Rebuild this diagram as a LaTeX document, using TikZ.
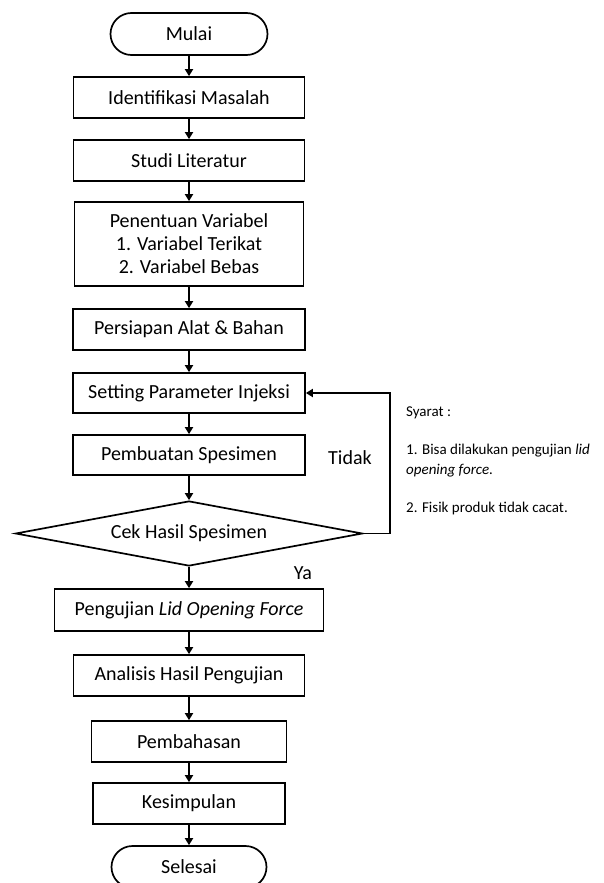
\documentclass[tikz,border=0pt]{standalone}
\usepackage{fontspec}
\setmainfont{Carlito}
\usetikzlibrary{shapes.geometric,arrows.meta}
\begin{document}
\begin{tikzpicture}[x=1pt,y=-1pt,
  box/.style={draw, line width=1.7pt, minimum height=41pt, inner sep=0pt, font=\fontsize{20}{23}\selectfont},
  term/.style={box, minimum width=157pt, minimum height=42pt, rounded corners=21pt},
  dec/.style={draw, diamond, aspect=5.3, line width=1.7pt, minimum width=347pt, minimum height=65pt, inner sep=0pt, font=\fontsize{20}{23}\selectfont},
  arr/.style={line width=1.7pt, -{Triangle[length=7pt,width=8pt]}},
  lbl/.style={font=\fontsize{20}{23}\selectfont, inner sep=0pt},
  note/.style={font=\fontsize{15}{18}\selectfont, anchor=west, inner sep=0pt}]
\useasboundingbox (0,0) rectangle (604,883);
\clip (0,0) rectangle (604,883);
\node[term] (mulai) at (189,34) {Mulai};
\node[box, minimum width=231pt] (ident) at (189,97.5) {Identifikasi Masalah};
\node[box, minimum width=231pt] (studi) at (189,160.5) {Studi Literatur};
\node[box, minimum width=229pt, minimum height=84pt, align=center] (var) at (189,244) {Penentuan Variabel\\1. Variabel Terikat\\2. Variabel Bebas};
\node[box, minimum width=232pt] (alat) at (189,329.5) {Persiapan Alat \& Bahan};
\node[box, minimum width=232pt, minimum height=40pt] (set) at (189,393) {Setting Parameter Injeksi};
\node[box, minimum width=232pt, minimum height=40pt] (buat) at (189,455) {Pembuatan Spesimen};
\node[dec] (cek) at (189,533.5) {Cek Hasil Spesimen};
\node[box, minimum width=269pt, minimum height=42pt] (uji) at (189,610) {Pengujian \textit{Lid Opening Force}};
\node[box, minimum width=231pt] (anal) at (189,675.5) {Analisis Hasil Pengujian};
\node[box, minimum width=195pt] (bahas) at (189,741.5) {Pembahasan};
\node[box, minimum width=192pt] (simp) at (189,803.5) {Kesimpulan};
\node[term, minimum width=155pt] (selesai) at (189,867) {Selesai};
\foreach \a/\b in {mulai/ident, ident/studi, studi/var, var/alat, alat/set, set/buat, buat/cek, cek/uji, uji/anal, anal/bahas, bahas/simp, simp/selesai}
  \draw[arr] (\a.south) -- (\b.north);
\coordinate (fb) at (390,533.5);
\draw[arr] (cek.east) -- (fb) |- (set.east);
\node[lbl] (tidak) at (350,458) {Tidak};
\node[lbl] (ya) at (303,573) {Ya};
\node[note] (syarat) at (406,413) {Syarat :};
\node[note] (s1) at (406,451) {1. Bisa dilakukan pengujian \textit{lid}};
\node[note] (s1b) at (406,471) {\textit{opening force.}};
\node[note] (s2) at (406,508) {2. Fisik produk tidak cacat.};
\end{tikzpicture}
\end{document}
